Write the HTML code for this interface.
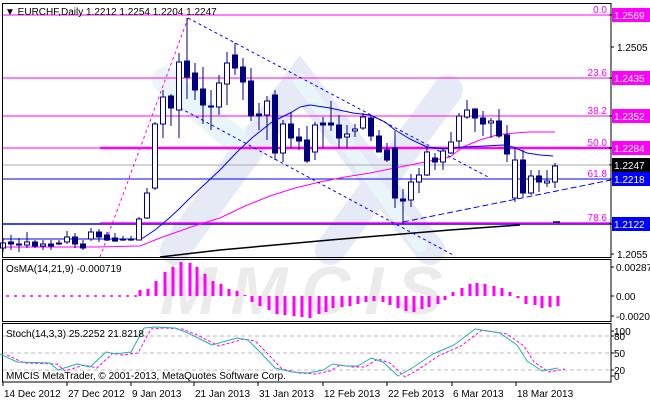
<!DOCTYPE html>
<html><head><meta charset="utf-8"><style>
html,body{margin:0;padding:0;background:#fff;width:650px;height:400px;overflow:hidden}
svg{display:block;font-family:"Liberation Sans",sans-serif;font-size:10px}
</style></head><body>
<svg id="s" width="650" height="400" viewBox="0 0 650 400" xmlns="http://www.w3.org/2000/svg">
<rect width="650" height="400" fill="#fff"/>
<g opacity="0.75" stroke-linecap="round" fill="none">
<path d="M175 250 L300 80 L430 250" stroke="#dde3f3" stroke-width="30"/>
<path d="M330 250 L448 90" stroke="#dde3f3" stroke-width="30"/>
<path d="M165 80 L235 140" stroke="#e4f2f9" stroke-width="26"/>
<path d="M300 80 L420 245" stroke="#e4f2f9" stroke-width="14"/>
</g>
<text x="160" y="314" font-size="68" font-style="italic" font-weight="bold" fill="#ebebeb" letter-spacing="14">MMCIS</text>
<g id="g"></g>
</svg>
<script>
var g=document.getElementById('g'),h='';
function L(x1,y1,x2,y2,c,w,d){h+='<line x1="'+x1+'" y1="'+y1+'" x2="'+x2+'" y2="'+y2+'" stroke="'+c+'" stroke-width="'+(w||1)+'"'+(d?' stroke-dasharray="'+d+'"':'')+'/>';}
function P(pts,c,w,d){h+='<polyline fill="none" stroke-linejoin="round" points="'+pts+'" stroke="'+c+'" stroke-width="'+(w||1)+'"'+(d?' stroke-dasharray="'+d+'"':'')+'/>';}
function T(x,y,t,c,a){h+='<text x="'+x+'" y="'+y+'" fill="'+(c||'#000')+'"'+(a?' text-anchor="'+a+'"':'')+'>'+t+'</text>';}
var M='#ff00ff',B='#0000ff',N='#000080';
[15,78,116,148].forEach(function(y){L(2,y,611,y,M,1);});
L(100,148,611,148,M,2.5);
L(2,165,611,165,'#aaaaaa',1);
L(2,179,611,179,B,1);
L(2,224,611,224,B,1.5);L(100,223,611,223,M,1.5);
[['0.0',13],['23.6',76],['38.2',114],['50.0',146],['61.8',177],['78.6',221]].forEach(function(a){T(607,a[1],a[0],M,'end');});
P('3,247 97,247 140,246 160,238 177,232 200,224 220,218 245,206 270,196 295,188 320,182 345,177 370,173 395,168 420,163 450,157 463,147 480,140 497,135 515,133 530,132 555,132',M,1);
P('3,239 139,239 143,238 155,230 167,220 178,210 188,200 205,184 220,170 237,152 253,137 272,122 292,112 300,107 310,105 330,108 353,113 370,115 385,122 395,130 410,139 427,147 445,149 463,147 485,146 503,145 513,147 520,150 527,153 540,155 553,156',B,1);
P('160,257 220,250 330,240 450,230 520,225',"#000",1.5);
L(553,222,560,222,'#000',1.5);
L(188,18,490,178,B,1,'3,3');
L(180,108,455,256,B,1,'3,3');
L(100,257,188,18,M,1,'3,3');
L(403,222,611,180,B,1,'6,3');
var C=[[3,243,248,238,252,1],[11,242,244,235,250,0],[19,244,245,238,252,0],[27,242,245,232,248,1],[35,242,246,240,248,0],[43,244,246,240,250,1],[51,244,246,240,250,0],[59,243,244,240,245,0],[67,237,242,231,244,1],[75,237,244,233,248,0],[83,244,248,240,250,0],[91,232,239,228,241,1],[99,232,237,229,242,0],[107,235,240,232,241,0],[115,238,241,233,242,0],[123,239,240,236,241,0],[131,239,240,236,241,0],[139,219,240,217,240,1],[147,193,218,188,219,1],[155,124,188,122,190,1],[163,97,124,90,138,1],[171,96,108,94,126,0],[179,62,110,53,138,1],[187,61,77,18,99,0],[195,73,90,63,100,0],[203,89,105,67,124,0],[211,106,107,90,130,0],[219,83,107,75,115,1],[227,63,84,52,105,1],[235,55,68,43,75,0],[243,67,82,58,100,0],[251,81,116,68,121,0],[259,114,116,103,130,0],[267,101,115,96,140,1],[275,95,153,90,160,0],[283,124,153,120,162,1],[291,124,138,112,148,0],[299,137,141,128,150,0],[307,140,161,126,163,0],[315,125,152,122,160,1],[323,123,125,117,148,0],[331,123,125,101,131,0],[339,125,138,115,148,0],[347,134,137,125,148,1],[355,129,131,124,137,1],[363,117,128,113,130,1],[371,118,136,115,141,0],[379,136,152,130,152,0],[387,150,160,143,162,0],[395,148,198,131,208,0],[403,199,201,189,224,0],[411,182,200,174,207,1],[419,175,182,168,193,1],[427,152,175,146,176,1],[435,158,162,153,170,0],[443,151,162,148,170,1],[451,142,153,132,154,1],[459,116,141,113,148,1],[467,110,117,100,119,1],[475,109,118,108,132,0],[483,118,124,111,136,0],[491,121,123,118,138,1],[499,121,136,109,138,0],[507,135,154,125,162,0],[515,160,198,147,202,1],[523,160,193,150,197,0],[531,176,193,170,195,1],[539,176,182,170,192,0],[547,181,183,170,187,1],[555,166,182,163,188,1]];
C.forEach(function(c){L(c[0],c[3],c[0],c[4],N,1);var hh=Math.max(c[2]-c[1],1);
h+='<rect x="'+(c[0]-2.5)+'" y="'+c[1]+'" width="5" height="'+hh+'" fill="'+(c[5]?'#fff':N)+'" stroke="'+N+'" stroke-width="1"/>';});
h+='<rect x="2.5" y="3.5" width="608.5" height="254" fill="none" stroke="#000"/>';
h+='<rect x="2.5" y="259.5" width="608.5" height="62" fill="none" stroke="#000"/>';
h+='<rect x="2.5" y="323.5" width="608.5" height="58.5" fill="none" stroke="#000"/>';
function BX(y,t,bg){h+='<rect x="612" y="'+(y-7)+'" width="38" height="14" fill="'+bg+'"/>';T(614,y+4,t,'#fff');L(609,y,612,y,'#000');}
[[47,'1.2505'],[254,'1.2055']].forEach(function(a){L(611,a[0],614,a[0],'#000');T(617,a[0]+4,a[1]);});
BX(15,'1.2569',M);BX(78,'1.2435',M);BX(116,'1.2352',M);BX(148,'1.2284',M);BX(165,'1.2247','#000');BX(179,'1.2218',B);BX(224,'1.2122',B);
T(5,15,'▼ EURCHF,Daily  1.2212 1.2254 1.2204 1.2247');
var Z=296,O=[[140,290],[148,289],[156,281],[165,272],[173,267],[181,262],[190,263],[197,267],[205,274],[213,281],[221,284],[229,289],[237,291],[245,295],[252,302],[260,306],[269,310],[277,314],[285,315],[294,316],[302,317],[310,318],[319,314],[326,312],[333,308],[342,307],[350,306],[358,304],[366,302],[374,301],[383,302],[390,305],[398,308],[406,311],[414,312],[422,309],[429,307],[438,304],[445,300],[453,292],[462,288],[470,284],[477,283],[485,284],[494,286],[502,288],[510,292],[518,298],[526,304],[535,305],[542,308],[550,307],[558,306]];
for(var x=6;x<138;x+=8)L(x,Z,x+3,Z,M,1.5);
O.forEach(function(o){var y1=Math.min(o[1],Z),y2=Math.max(o[1],Z);h+='<rect x="'+(o[0]-1.5)+'" y="'+y1+'" width="3" height="'+Math.max(y2-y1,1)+'" fill="'+M+'"/>';});
T(6,272,'OsMA(14,21,9) -0.000719');
[[267,'0.002879'],[296,'0.00'],[316,'-0.00202']].forEach(function(a){L(611,a[0],614,a[0],'#000');T(616,a[0]+4,a[1]);});
[336,353,370].forEach(function(y){L(3,y,610,y,'#bbbbbb',1,'4,3');});
var S='0,354 17,362 50,363 58,370 77,364 90,367 106,352 115,354 131,352 144,328 156,327 175,328 188,333 212,345 237,338 248,340 260,352 275,368 292,372 308,373 323,370 333,364 346,366 358,366 371,358 383,362 398,376 412,368 433,354 454,345 475,329 500,333 517,345 527,361 542,371 558,368';
var sp=S.split(' ').map(function(p){var a=p.split(',');return (+a[0]+7)+','+(+a[1]+1);}).join(' ');
P(sp,M,1,'3,2');P(S,'#20b2aa',1);
T(6,337,'Stoch(14,3,3) 25.2252 21.8218');
T(6,379,'MMCIS MetaTrader, © 2001-2013, MetaQuotes Software Corp.');
[[331,'100'],[336,'80'],[353,'50'],[370,'20'],[376,'0']].forEach(function(a){L(611,a[0],614,a[0],'#000');T(614,a[0]+4,a[1]);});
[[3,'14 Dec 2012'],[67,'27 Dec 2012'],[131,'9 Jan 2013'],[194,'21 Jan 2013'],[258,'31 Jan 2013'],[323,'12 Feb 2013'],[387,'22 Feb 2013'],[452,'6 Mar 2013'],[516,'18 Mar 2013']].forEach(function(a){L(a[0],382,a[0],386,'#000');T(a[0]+1,397,a[1]);});
g.innerHTML=h;
</script>
</body></html>
